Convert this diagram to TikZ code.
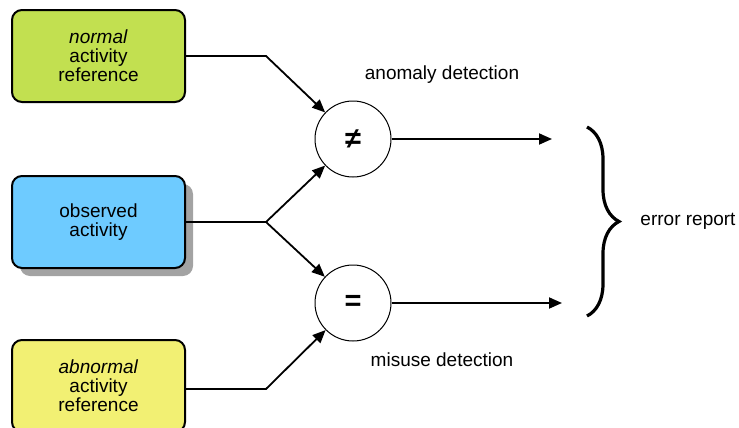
\documentclass[tikz,border=0pt]{standalone}
\usepackage{fontspec}
\setmainfont{Liberation Sans}
\usetikzlibrary{arrows.meta,shadows,decorations.pathreplacing}
\definecolor{normalgreen}{RGB}{194,224,80}
\definecolor{observedblue}{RGB}{110,203,255}
\definecolor{abnormalyellow}{RGB}{242,240,115}
\tikzset{
	refbox/.style={draw, line width=1pt, rounded corners=5pt, minimum width=86.5pt, minimum height=46pt, align=center, font=\fontsize{9.5}{9.5}\selectfont},
	cmpnode/.style={draw, circle, line width=0.5pt, minimum size=38pt, inner sep=0pt, font=\fontsize{14.5}{14.5}\selectfont\bfseries},
	flow/.style={line width=0.9pt, -{Triangle[length=6.5pt,width=5.5pt]}},
	txt/.style={font=\fontsize{9.5}{9.5}\selectfont},
	bigbrace/.style={line width=1.6pt, decorate, decoration={brace, amplitude=16pt}}
}

\begin{document}
\begin{tikzpicture}[x=0.5pt, y=-0.5pt]
		%%%%% START %%%%%
		\useasboundingbox (0, 0) rectangle (739, 428);
		
		\node[refbox, fill=normalgreen] (normal) at (98.5, 56) {\textit{normal}\\activity\\reference};
		\node[refbox, fill=observedblue, drop shadow={shadow xshift=4pt, shadow yshift=-4pt, fill=black!60, opacity=0.6}] (observed) at (98.5, 222) {observed\\activity};
		\node[refbox, fill=abnormalyellow] (abnormal) at (98.5, 386) {\textit{abnormal}\\activity\\reference};
		
		\node[cmpnode] (neq) at (353, 139) {≠};
		\node[cmpnode] (eq) at (353, 303) {=};
		
		\coordinate (nk) at (266, 56);
		\coordinate (ok) at (266, 222);
		\coordinate (ak) at (266, 389);
		\coordinate (outneq) at (552, 139);
		\coordinate (outeq) at (562, 303);
		
		\draw[flow] (normal) -- (nk) -- (neq);
		\draw[line width=0.7pt] (observed) -- (ok);
		\draw[flow] (ok) -- (neq);
		\draw[flow] (ok) -- (eq);
		\draw[flow] (abnormal.east |- ak) -- (ak) -- (eq);
		
		\draw[flow] (neq) -- (outneq);
		\draw[flow] (eq) -- (outeq);
		
		\node[txt] (anomaly) at (442, 75) {anomaly detection};
		\node[txt] (misuse) at (442, 360) {misuse detection};
		
		\draw[bigbrace] (587, 127) -- (587, 316);
		\node[txt] (report) at (688, 221) {error report};
		
		%%%%% END %%%%%
\end{tikzpicture}
\end{document}
